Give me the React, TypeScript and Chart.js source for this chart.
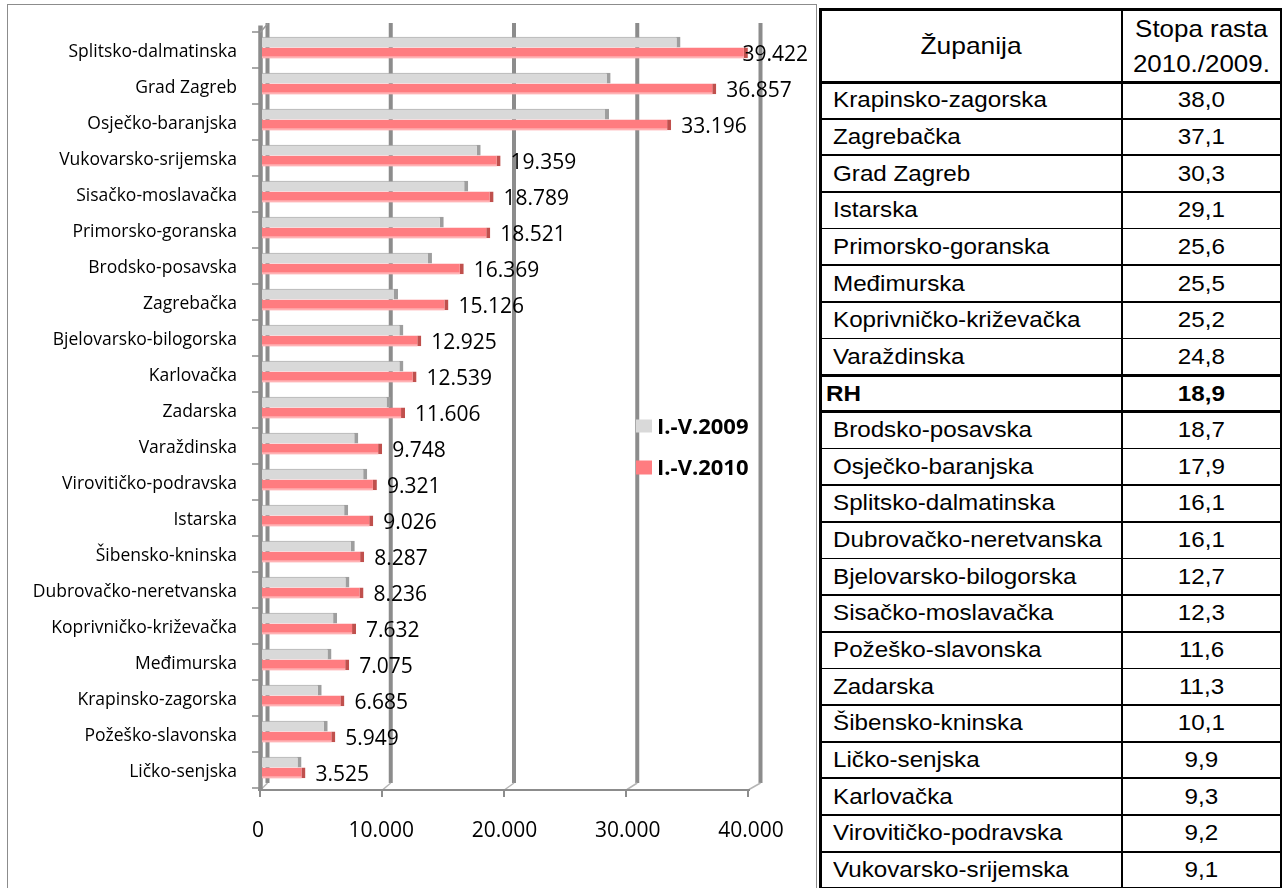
import React, { useEffect, useRef } from "react";
import { Chart, registerables } from "chart.js";

Chart.register(...registerables);

const categories = [
  "Splitsko-dalmatinska",
  "Grad Zagreb",
  "Osječko-baranjska",
  "Vukovarsko-srijemska",
  "Sisačko-moslavačka",
  "Primorsko-goranska",
  "Brodsko-posavska",
  "Zagrebačka",
  "Bjelovarsko-bilogorska",
  "Karlovačka",
  "Zadarska",
  "Varaždinska",
  "Virovitičko-podravska",
  "Istarska",
  "Šibensko-kninska",
  "Dubrovačko-neretvanska",
  "Koprivničko-križevačka",
  "Međimurska",
  "Krapinsko-zagorska",
  "Požeško-slavonska",
  "Ličko-senjska",
];

const values2009 = [
  33955, 28286, 28156, 17744, 16731, 14746, 13790, 11033, 11469, 11472, 10428,
  7811, 8536, 6992, 7527, 7094, 6096, 5637, 4844, 5331, 3207,
];

const values2010 = [
  39422, 36857, 33196, 19359, 18789, 18521, 16369, 15126, 12925, 12539, 11606,
  9748, 9321, 9026, 8287, 8236, 7632, 7075, 6685, 5949, 3525,
];

const xTicks = [0, 10000, 20000, 30000, 40000];
const seriesLabels = ["I.-V.2009", "I.-V.2010"];

const tableHeader1 = "Županija";
const tableHeader2 = ["Stopa rasta", "2010./2009."];
const tableCounties = [
  "Krapinsko-zagorska",
  "Zagrebačka",
  "Grad Zagreb",
  "Istarska",
  "Primorsko-goranska",
  "Međimurska",
  "Koprivničko-križevačka",
  "Varaždinska",
  "RH",
  "Brodsko-posavska",
  "Osječko-baranjska",
  "Splitsko-dalmatinska",
  "Dubrovačko-neretvanska",
  "Bjelovarsko-bilogorska",
  "Sisačko-moslavačka",
  "Požeško-slavonska",
  "Zadarska",
  "Šibensko-kninska",
  "Ličko-senjska",
  "Karlovačka",
  "Virovitičko-podravska",
  "Vukovarsko-srijemska",
];
const tableRates = [
  "38,0", "37,1", "30,3", "29,1", "25,6", "25,5", "25,2", "24,8", "18,9",
  "18,7", "17,9", "16,1", "16,1", "12,7", "12,3", "11,6", "11,3", "10,1",
  "9,9", "9,3", "9,2", "9,1",
];
const boldRow = "RH";

const COLOR_2009 = "#d9d9d9";
const COLOR_2010 = "#ff7c80";
const GRID = "#8c8c8c";

const fmt = (n: number) =>
  String(n).replace(/\B(?=(\d{3})+(?!\d))/g, ".");

const decorPlugin = {
  id: "decor3d",
  beforeDatasetsDraw(chart: any) {
    const { ctx, chartArea, scales } = chart;
    const xs = scales.x;
    const ys = scales.y;
    const front = (v: number) => xs.getPixelForValue(v) - 2 - (5 * v) / 40000;
    ctx.save();
    // back-wall gridlines
    ctx.strokeStyle = GRID;
    ctx.lineWidth = 4;
    xTicks.forEach((v) => {
      const x = xs.getPixelForValue(v) + 5.5;
      ctx.beginPath();
      ctx.moveTo(x, chartArea.top - 6.5);
      ctx.lineTo(x, chartArea.bottom - 2.5);
      ctx.stroke();
    });
    // floor diagonals
    ctx.strokeStyle = "#b5b5b5";
    ctx.lineWidth = 1.5;
    xTicks.forEach((v) => {
      const x = xs.getPixelForValue(v) + 5.5;
      ctx.beginPath();
      ctx.moveTo(x, chartArea.bottom - 2.5);
      ctx.lineTo(front(v) + 1, chartArea.bottom + 4);
      ctx.stroke();
    });
    // left wall
    ctx.strokeStyle = GRID;
    ctx.lineWidth = 4.5;
    const wx = chartArea.left - 1.5;
    ctx.beginPath();
    ctx.moveTo(wx, chartArea.top - 4);
    ctx.lineTo(wx, chartArea.bottom + 4);
    ctx.stroke();
    // top diagonal of wall
    ctx.lineWidth = 1.5;
    ctx.strokeStyle = "#9a9a9a";
    ctx.beginPath();
    ctx.moveTo(chartArea.left - 2, chartArea.top + 3);
    ctx.lineTo(chartArea.left + 6, chartArea.top - 6);
    ctx.stroke();
    // left tick marks at category boundaries
    ctx.strokeStyle = GRID;
    ctx.lineWidth = 1.5;
    const n = categories.length;
    for (let i = 0; i <= n; i++) {
      const y = ys.getPixelForValue(i - 0.5) + 2.5;
      ctx.beginPath();
      ctx.moveTo(chartArea.left - 10, y);
      ctx.lineTo(chartArea.left - 2, y);
      ctx.stroke();
    }
    // front axis line
    ctx.lineWidth = 2;
    const ay = chartArea.bottom + 4.5;
    ctx.beginPath();
    ctx.moveTo(front(0) - 2, ay);
    ctx.lineTo(front(40000) + 2, ay);
    ctx.stroke();
    xTicks.forEach((v) => {
      const x = front(v);
      ctx.beginPath();
      ctx.moveTo(x, ay);
      ctx.lineTo(x, ay + 7);
      ctx.stroke();
    });
    ctx.restore();
  },
  afterDatasetsDraw(chart: any) {
    const { ctx, chartArea } = chart;
    ctx.save();
    // lighter lower strip on red bars
    const meta1 = chart.getDatasetMeta(1);
    meta1.data.forEach((bar: any) => {
      const h = bar.height;
      ctx.fillStyle = "#ffb3b5";
      ctx.fillRect(bar.base, bar.y + h / 2 - 2, bar.x - bar.base - 4, 2);
    });
    // value labels for 2010
    ctx.font = "21px 'Open Sans'";
    ctx.fillStyle = "#000";
    ctx.textBaseline = "middle";
    ctx.textAlign = "left";
    const limit = chartArea.right + 53;
    meta1.data.forEach((bar: any, i: number) => {
      const t = fmt(values2010[i]);
      const w = ctx.measureText(t).width;
      const x = Math.min(bar.x + 10, limit - w);
      ctx.fillText(t, x, bar.y + 2);
    });
    // legend
    const lx = chartArea.left + 374;
    const ly = chartArea.top + 390;
    ctx.fillStyle = COLOR_2009;
    ctx.fillRect(lx, ly, 16, 13);
    ctx.fillStyle = COLOR_2010;
    ctx.fillRect(lx, ly + 41, 16, 14);
    ctx.fillStyle = "#000";
    ctx.font = "bold 22px 'Open Sans'";
    ctx.fillText(seriesLabels[0], lx + 21, ly + 8);
    ctx.fillText(seriesLabels[1], lx + 21, ly + 49);
    ctx.restore();
  },
};

function BarChart() {
  const ref = useRef<HTMLCanvasElement | null>(null);
  useEffect(() => {
    if (!ref.current) return;
    Chart.defaults.font.family = "'Open Sans'";
    const chart = new Chart(ref.current, {
      type: "bar",
      data: {
        labels: categories,
        datasets: [
          {
            label: seriesLabels[0],
            data: values2009,
            backgroundColor: COLOR_2009,
            borderColor: "#9e9e9e",
            borderWidth: { top: 1, right: 4, bottom: 0, left: 0 },
            borderSkipped: false,
            categoryPercentage: 0.6,
            barPercentage: 1.0,
          },
          {
            label: seriesLabels[1],
            data: values2010,
            backgroundColor: COLOR_2010,
            borderColor: "#c0504d",
            borderWidth: { top: 0, right: 4, bottom: 0, left: 0 },
            borderSkipped: false,
            categoryPercentage: 0.6,
            barPercentage: 1.0,
          },
        ],
      },
      options: {
        indexAxis: "y",
        responsive: false,
        animation: false,
        devicePixelRatio: 1,
        layout: { padding: { top: 24.5, right: 61, left: 0, bottom: 0 } },
        plugins: {
          legend: { display: false },
          tooltip: { enabled: false },
        },
        scales: {
          x: {
            type: "linear",
            min: 0,
            max: 40000,
            afterBuildTicks(scale: any) {
              scale.ticks = xTicks.map((v) => ({ value: v }));
            },
            ticks: {
              callback: (v: any) => fmt(Number(v)),
              font: { size: 21, family: "'Open Sans'" },
              color: "#000",
              padding: 33,
              maxRotation: 0,
              labelOffset: -4,
            },
            grid: { display: false, drawTicks: false },
            border: { display: false },
            afterFit(scale: any) {
              scale.height = 102.5;
              scale.paddingLeft = 0;
              scale.paddingRight = 0;
            },
          },
          y: {
            type: "category",
            ticks: {
              font: { size: 17.5, family: "'Open Sans'" },
              color: "#000",
              padding: 25,
              autoSkip: false,
              labelOffset: 4.5,
            },
            grid: { display: false, drawTicks: false },
            border: { display: false },
            afterFit(scale: any) {
              scale.width = 254;
              scale.paddingTop = 0;
              scale.paddingBottom = 0;
            },
          },
        },
      },
      plugins: [decorPlugin],
    } as any);
    return () => chart.destroy();
  }, []);
  return (
    <canvas
      ref={ref}
      width={808}
      height={883}
      style={{ position: "absolute", left: 0, top: 0, width: 808, height: 883 }}
    />
  );
}

const HEAD_TOP = 9;
const HEAD_BOTTOM = 82;
const ROW_H = 36.65;
const T_LEFT = 820;
const T_RIGHT = 1281;
const COL_X = 1122;

function RateTable() {
  const font = "'Liberation Sans', Arial, sans-serif";
  const lines: React.ReactNode[] = [];
  lines.push(
    <div key="top" style={{ position: "absolute", left: T_LEFT - 1.5, top: HEAD_TOP - 1.5, width: T_RIGHT - T_LEFT + 3, height: 3, background: "#000" }} />
  );
  lines.push(
    <div key="left" style={{ position: "absolute", left: T_LEFT - 1.5, top: HEAD_TOP - 1.5, width: 3, height: 900, background: "#000" }} />
  );
  lines.push(
    <div key="right" style={{ position: "absolute", left: T_RIGHT - 1.5, top: HEAD_TOP - 1.5, width: 3, height: 900, background: "#000" }} />
  );
  lines.push(
    <div key="col" style={{ position: "absolute", left: COL_X - 1.25, top: HEAD_TOP, width: 2.5, height: 900, background: "#000" }} />
  );
  for (let i = 0; i <= tableCounties.length; i++) {
    const y = HEAD_BOTTOM + i * ROW_H;
    const thick =
      i === 0 ||
      tableCounties[i] === boldRow ||
      tableCounties[i - 1] === boldRow;
    const th = thick ? 3 : 1.8;
    lines.push(
      <div key={"h" + i} style={{ position: "absolute", left: T_LEFT, top: y - th / 2, width: T_RIGHT - T_LEFT, height: th, background: "#000" }} />
    );
  }
  const cells: React.ReactNode[] = [];
  cells.push(
    <div key="h1" style={{ position: "absolute", left: T_LEFT, top: HEAD_TOP, width: COL_X - T_LEFT, height: HEAD_BOTTOM - HEAD_TOP, display: "flex", alignItems: "center", justifyContent: "center" }}>
      <span style={{ display: "inline-block", fontFamily: font, fontSize: 24, transform: "scaleX(1.1)" }}>{tableHeader1}</span>
    </div>
  );
  cells.push(
    <div key="h2" style={{ position: "absolute", left: COL_X, top: HEAD_TOP, width: T_RIGHT - COL_X, height: HEAD_BOTTOM - HEAD_TOP, display: "flex", flexDirection: "column", alignItems: "center", justifyContent: "center" }}>
      {tableHeader2.map((t, k) => (
        <span key={k} style={{ display: "block", fontFamily: font, fontSize: 24, lineHeight: "35px", transform: "scaleX(1.08)" }}>{t}</span>
      ))}
    </div>
  );
  tableCounties.forEach((c, i) => {
    const top = HEAD_BOTTOM + i * ROW_H;
    const bold = c === boldRow;
    cells.push(
      <div key={"c" + i} style={{ position: "absolute", left: T_LEFT + (bold ? 6 : 13), top, height: ROW_H, display: "flex", alignItems: "center" }}>
        <span style={{ display: "inline-block", fontFamily: font, fontSize: 22, fontWeight: bold ? 700 : 400, transform: "scaleX(1.1)", transformOrigin: "left center", whiteSpace: "nowrap" }}>{c}</span>
      </div>
    );
    cells.push(
      <div key={"r" + i} style={{ position: "absolute", left: COL_X, width: T_RIGHT - COL_X, top, height: ROW_H, display: "flex", alignItems: "center", justifyContent: "center" }}>
        <span style={{ display: "inline-block", fontFamily: font, fontSize: 22, fontWeight: bold ? 700 : 400, transform: "scaleX(1.1)" }}>{tableRates[i]}</span>
      </div>
    );
  });
  return (
    <>
      {cells}
      {lines}
    </>
  );
}

export default function App() {
  useEffect(() => {
    document.body.style.margin = "0";
    document.body.style.overflow = "hidden";
  }, []);
  return (
    <div style={{ position: "fixed", left: 0, top: 0, width: 1282, height: 888, overflow: "hidden", background: "#fff", color: "#000" }}>
      <div style={{ position: "absolute", left: 7, top: 4, width: 808, height: 900, border: "1px solid #8c8c8c", overflow: "hidden" }}>
        <BarChart />
      </div>
      <RateTable />
    </div>
  );
}
